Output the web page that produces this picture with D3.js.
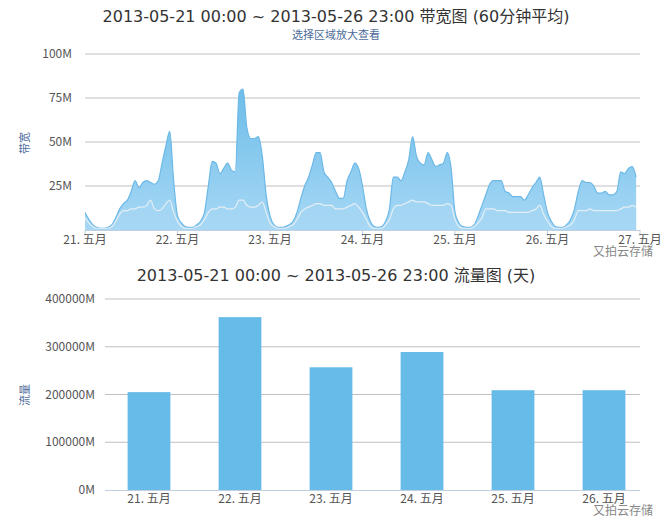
<!DOCTYPE html>
<html><head><meta charset="utf-8">
<script src="https://cdn.jsdelivr.net/npm/d3@7"></script>
<style>body{margin:0;background:#fff;font-family:"Noto Sans CJK SC","DejaVu Sans",sans-serif}</style>
</head><body><div id="c"></div>
<script>
// 带宽 每小时峰值 (M)，2013-05-21 00:00 起
const bwPeak = [
  10,6,3,1.5,1,1,1.5,3,7,12,15,17,22,28,24,27,28,27,26,28,38,48,56,28,
  8,4,2,1.5,1.5,3,5,10,25,39,38,32,35,38,34,33,78,80,58,52,52,53,42,20,
  8,3,1.5,1.5,2,3,5,10,18,25,30,37,44,44,33,30,27,22,18,18,28,33,38,35,
  25,12,5,2,1.5,2,5,12,30,30,28,33,40,53,42,38,37,44,40,36,37,38,44,35,
  10,4,2,1.5,1.5,3,8,14,20,26,28,28,28,22,21,19,19,19,17,20,24,27,30,20,
  10,5,2,1.5,1.5,3,6,12,22,28,27,27,25,21,21,22,20,20,22,33,32,35,36,30
];
// 带宽 每小时平均 (M)
const bwAvg = [
  7,4,2,1,1,1,1,2,5,9,11,11,12,12,13,13,14,17,12,11,12,15,17,10,
  5,2,1,1,1,2,3,6,10,12,12,13,13,12,12,13,17,17,14,13,13,14,16,10,
  4,2,1,1,1,2,3,6,10,12,13,14,15,15,14,14,14,12,12,12,13,14,15,13,
  10,6,2,1,1,1,3,6,12,14,14,15,16,17,16,16,16,15,14,14,14,14,15,14,
  6,2,1,1,1,2,4,7,12,12,12,11,11,11,10,10,10,10,10,10,11,12,14,9,
  5,2,1,1,1,2,3,6,11,11,11,12,11,11,11,11,11,11,11,12,13,13,14,13
];
// 流量 每天 (M)
const days = ["21. 五月","22. 五月","23. 五月","24. 五月","25. 五月","26. 五月"];
const flow = [205000,362000,257000,289000,209000,209000];
const topTicks = ["21. 五月","22. 五月","23. 五月","24. 五月","25. 五月","26. 五月","27. 五月"];

const W = 671, H = 520;
const svg = d3.select("#c").append("svg").attr("width", W).attr("height", H);
const txt = "#555";
const titleFont = "'DejaVu Sans','Noto Sans CJK SC',sans-serif";

// ---- 上图：带宽 ----
svg.append("text").attr("x", 336).attr("y", 22).attr("text-anchor","middle")
  .attr("font-size", 16).attr("font-family", titleFont).attr("fill","#333")
  .text("2013-05-21 00:00 ~ 2013-05-26 23:00 带宽图 (60分钟平均)");
svg.append("text").attr("x", 336).attr("y", 39).attr("text-anchor","middle")
  .attr("font-size", 11).attr("fill","#4d6b9a").text("选择区域放大查看");

const x1 = d3.scaleLinear().domain([0, 144]).range([85, 640]);
const y1 = d3.scaleLinear().domain([0, 100]).range([230, 54]);

const g1 = svg.append("g");
g1.selectAll("line.g").data([25,50,75,100]).join("line")
  .attr("x1", 85).attr("x2", 640).attr("y1", d => y1(d)).attr("y2", d => y1(d))
  .attr("stroke", "#c0c0c0");
g1.selectAll("text.yl").data([25,50,75,100]).join("text")
  .attr("x", 72).attr("y", d => y1(d) + 4).attr("text-anchor","end")
  .attr("font-size", 12).attr("fill", txt).text(d => d + "M");

const grad = svg.append("defs").append("linearGradient").attr("id","ga").attr("x1",0).attr("x2",0).attr("y1",0).attr("y2",1);
grad.append("stop").attr("offset","0%").attr("stop-color","#6dbde9");
grad.append("stop").attr("offset","100%").attr("stop-color","#a7d8f5");

const area = d3.area().x((d,i) => x1(i)).y0(y1(0)).y1(d => y1(d)).curve(d3.curveMonotoneX);
g1.append("path").datum(bwPeak).attr("d", area).attr("fill", "url(#ga)");
g1.append("path").datum(bwPeak).attr("d", area.lineY1()).attr("fill","none").attr("stroke","#6cb8e6").attr("stroke-width",1.2);
g1.append("path").datum(bwAvg).attr("d", area).attr("fill", "#a6d7f4").attr("opacity", 0.6);
g1.append("path").datum(bwAvg).attr("d", area.lineY1()).attr("fill","none").attr("stroke","#e4eef5").attr("stroke-width",1.2);

g1.append("line").attr("x1",85).attr("x2",640).attr("y1",230.5).attr("y2",230.5).attr("stroke","#c0d0e0");
g1.selectAll("line.t").data(topTicks).join("line")
  .attr("x1",(d,i)=>x1(i*24)).attr("x2",(d,i)=>x1(i*24)).attr("y1",230).attr("y2",236).attr("stroke","#c0d0e0");
g1.selectAll("text.xl").data(topTicks).join("text")
  .attr("x",(d,i)=>x1(i*24)).attr("y",244).attr("text-anchor","middle")
  .attr("font-size",12).attr("fill",txt).text(d => d);
svg.append("text").attr("transform","translate(29,143) rotate(-90)").attr("text-anchor","middle")
  .attr("font-size",11).attr("fill","#4d6b9a").text("带宽");
svg.append("text").attr("x",653).attr("y",256).attr("text-anchor","end")
  .attr("font-size",12).attr("fill","#888").text("又拍云存储");

// ---- 下图：流量 ----
svg.append("text").attr("x", 336).attr("y", 281).attr("text-anchor","middle")
  .attr("font-size", 16).attr("font-family", titleFont).attr("fill","#333")
  .text("2013-05-21 00:00 ~ 2013-05-26 23:00 流量图 (天)");

const x2 = d3.scaleBand().domain(days).range([103.5, 649.5]).paddingInner(0.53).paddingOuter(0.265);
const y2 = d3.scaleLinear().domain([0, 400000]).range([490, 299]);
const g2 = svg.append("g");
const yt = [100000,200000,300000,400000];
g2.selectAll("line.g").data(yt).join("line")
  .attr("x1",105).attr("x2",640).attr("y1",d=>y2(d)).attr("y2",d=>y2(d)).attr("stroke","#c0c0c0");
g2.selectAll("text.yl").data([0].concat(yt)).join("text")
  .attr("x",95).attr("y",d=>y2(d)+4).attr("text-anchor","end")
  .attr("font-size",12).attr("fill",txt).text(d => d + "M");
g2.selectAll("rect").data(flow).join("rect")
  .attr("x",(d,i)=>x2(days[i])).attr("width",x2.bandwidth())
  .attr("y",d=>y2(d)).attr("height",d=>y2(0)-y2(d)).attr("fill","#66bbe9");
g2.append("line").attr("x1",105).attr("x2",640).attr("y1",490.5).attr("y2",490.5).attr("stroke","#c0d0e0");
g2.selectAll("text.xl").data(days).join("text")
  .attr("x",d=>x2(d)+x2.bandwidth()/2).attr("y",503).attr("text-anchor","middle")
  .attr("font-size",12).attr("fill",txt).text(d=>d);
svg.append("text").attr("transform","translate(29,395) rotate(-90)").attr("text-anchor","middle")
  .attr("font-size",11).attr("fill","#4d6b9a").text("流量");
svg.append("text").attr("x",653).attr("y",515).attr("text-anchor","end")
  .attr("font-size",12).attr("fill","#888").text("又拍云存储");
</script></body></html>
